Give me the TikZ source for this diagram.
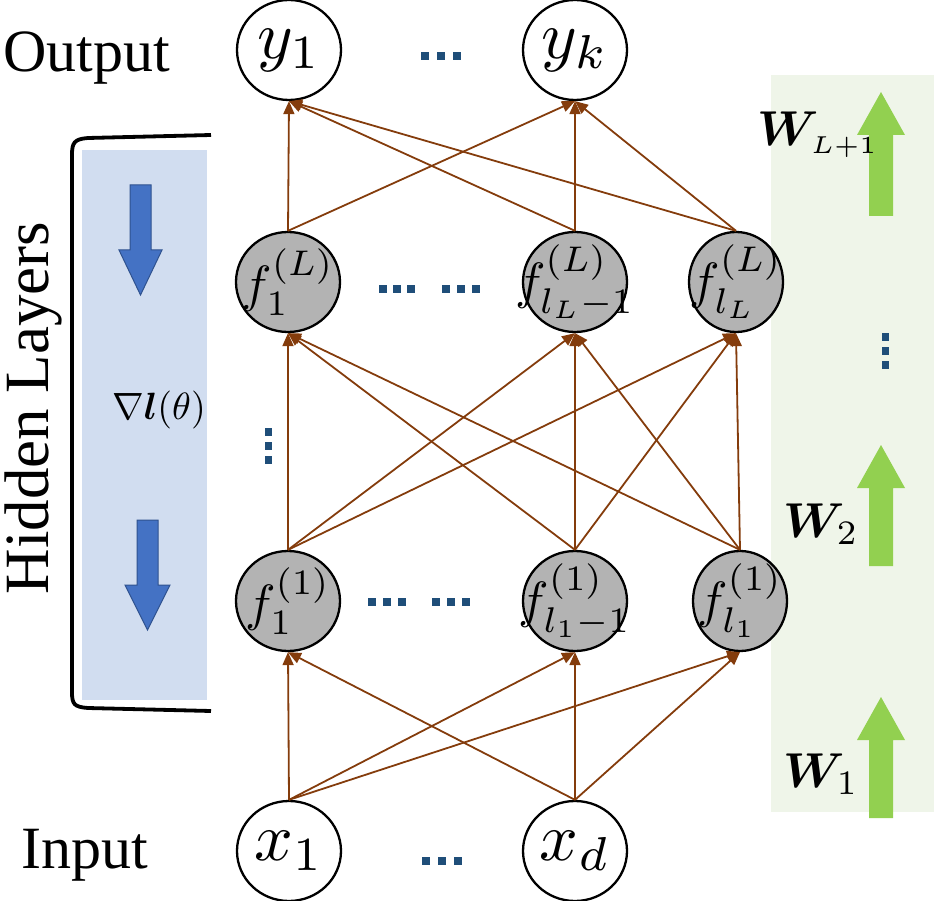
\documentclass[tikz,border=0pt]{standalone}
\usepackage{graphicx}
\usepackage{amsmath}
\usepackage{bm}
\usepackage{fontspec}
\setmainfont{Liberation Serif}
\usetikzlibrary{shapes.geometric,arrows.meta}
\definecolor{brn}{RGB}{132,60,12}
\definecolor{hgray}{RGB}{179,179,179}
\definecolor{dotc}{RGB}{31,78,121}
\definecolor{grn}{RGB}{146,208,80}
\definecolor{grnbg}{RGB}{239,245,233}
\definecolor{bluebg}{RGB}{209,221,240}
\definecolor{bluef}{RGB}{68,114,196}
\definecolor{blued}{RGB}{47,82,143}
\newcommand\ioM[1]{\scalebox{6.8}{$#1$}}
\newcommand\hM[1]{\scalebox{5.1}{$#1$}}
\newcommand\wM[1]{\scalebox{4.9}{$#1$}}
\begin{document}
\begin{tikzpicture}[x=1pt,y=-1pt,
  ionode/.style={ellipse,draw,line width=2.3pt,minimum width=104pt,minimum height=100pt,inner sep=0pt},
  hnode/.style={ellipse,draw,fill=hgray,line width=2.3pt,minimum width=104pt,minimum height=100pt,inner sep=0pt},
  inl/.style={inner sep=0pt},
  edge/.style={draw=brn,line width=1.8pt,-{Triangle[length=13pt,width=11pt]}},
  lbl/.style={font=\fontsize{60}{60}\selectfont,inner sep=0pt},
  wlbl/.style={inner sep=0pt,anchor=base west}]
\useasboundingbox (0,0) rectangle (934,901);
% backgrounds
\fill[grnbg] (771,75) rectangle (934,812);
\fill[bluebg] (82,150) rectangle (207,700);
% bracket
\draw[line width=3.8pt] (211,135) -- (88,138) .. controls (74,139) and (72,143) .. (72,155) -- (72,692) .. controls (72,704) and (74,707) .. (88,708) -- (211,711);
% blue arrows
\filldraw[fill=bluef,draw=blued,line width=1pt] (130,185) -- (151,185) -- (151,250) -- (162,250) -- (140.5,295) -- (119,250) -- (130,250) -- cycle;
\filldraw[fill=bluef,draw=blued,line width=1pt] (137,520) -- (158,520) -- (158,585) -- (170,585) -- (147.5,630) -- (125,585) -- (137,585) -- cycle;
% green arrows
\fill[grn] (869,216) -- (869,135) -- (857,135) -- (881,92) -- (905,135) -- (893,135) -- (893,216) -- cycle;
\fill[grn] (869,566) -- (869,488) -- (857,488) -- (881,445) -- (905,488) -- (893,488) -- (893,566) -- cycle;
\fill[grn] (869,818) -- (869,740) -- (857,740) -- (881,697) -- (905,740) -- (893,740) -- (893,818) -- cycle;
% labels
\node[lbl,anchor=base west] (out) at (3,72) {Output};
\node[lbl,anchor=base west] (inp) at (21,868) {Input};
\node[font=\fontsize{63}{63}\selectfont,inner sep=0pt,anchor=base,rotate=90] (hid) at (48,408) {Hidden Layers};
\node[inner sep=0pt] (grad) at (159,410) {\scalebox{3.8}{$\nabla\bm{l}(\theta)$}};
\node[wlbl] (w3) at (757,146) {\wM{\bm{W}_{\scriptscriptstyle L+1}}};
\node[wlbl] (w2) at (783,537) {\wM{\bm{W}_{2}}};
\node[wlbl] (w1) at (783,787) {\wM{\bm{W}_{1}}};
% nodes
\node[ionode,label={[inl]center:\ioM{y_1}}] (y1) at (289,50) {};
\node[ionode,label={[inl]center:\ioM{y_k}}] (yk) at (575,50) {};
\node[hnode,label={[inl]center:\hM{f_1^{(L)}}}] (fL1) at (288,282) {};
\node[hnode,label={[inl]center:\hM{f_{l_L-1}^{(L)}}}] (fLm) at (575,282) {};
\node[hnode,minimum width=94pt,label={[inl]center:\hM{f_{l_L}^{(L)}}}] (fLn) at (736,282) {};
\node[hnode,label={[inl]center:\hM{f_1^{(1)}}}] (f11) at (288,601) {};
\node[hnode,label={[inl]center:\hM{f_{l_1-1}^{(1)}}}] (f1m) at (575,601) {};
\node[hnode,minimum width=94pt,label={[inl]center:\hM{f_{l_1}^{(1)}}}] (f1n) at (740,601) {};
\node[ionode,label={[inl]center:\ioM{x_1}}] (x1) at (289,851) {};
\node[ionode,label={[inl]center:\ioM{x_d}}] (xd) at (575,851) {};
% edges
\foreach \s in {x1,xd} \foreach \t in {f11,f1m,f1n} \draw[edge] (\s.north) -- (\t.south);
\foreach \s in {f11,f1m,f1n} \foreach \t in {fL1,fLm,fLn} \draw[edge] (\s.north) -- (\t.south);
\foreach \s in {fL1,fLm,fLn} \foreach \t in {y1,yk} \draw[edge] (\s.north) -- (\t.south);
% dots
\foreach \x in {425,441,457} \fill[dotc] (\x-4,52) rectangle ++(8,8);
\foreach \x in {426,442,458} \fill[dotc] (\x-4,857) rectangle ++(8,8);
\foreach \x in {383,397,411,446,461,476} \fill[dotc] (\x-4,285) rectangle ++(8,8);
\foreach \x in {372,387,402,436,451,466} \fill[dotc] (\x-4,598) rectangle ++(8,8);
\foreach \y in {432,446,460} \fill[dotc] (265,\y-4) rectangle ++(7,8);
\foreach \y in {337,351,365} \fill[dotc] (882,\y-4) rectangle ++(7,8);
\end{tikzpicture}
\end{document}
